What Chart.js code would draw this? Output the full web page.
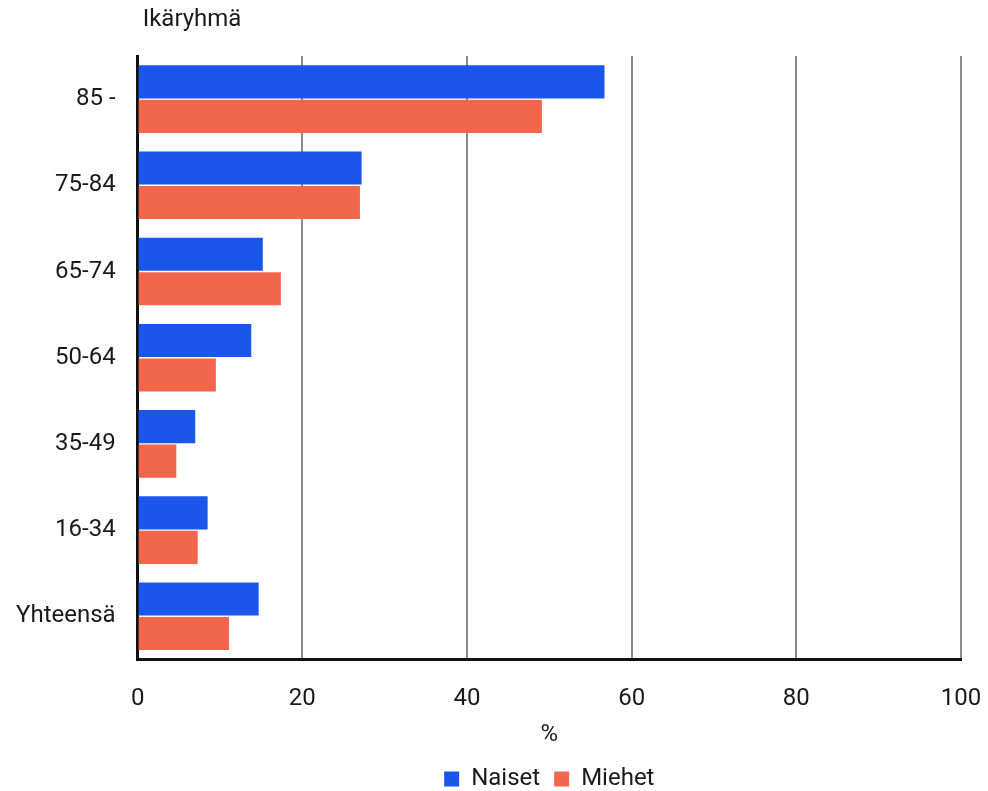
<!DOCTYPE html>
<html>
<head>
<meta charset="utf-8">
<script src="https://cdn.jsdelivr.net/npm/chart.js@4"></script>
<style>
  html, body { margin: 0; padding: 0; background: #fff; overflow: hidden; }
  #wrap { width: 988px; height: 791px; position: relative; }
  canvas { display: block; }
</style>
</head>
<body>
<div id="wrap"><canvas id="myChart"></canvas></div>
<script>
const labels = ['85 -', '75-84', '65-74', '50-64', '35-49', '16-34', 'Yhteensä'];
const naiset = [56.7, 27.2, 15.2, 13.8, 7.0, 8.5, 14.7];
const miehet = [49.1, 27.0, 17.4, 9.5, 4.7, 7.3, 11.1];
const xTicks = [0, 20, 40, 60, 80, 100];

const fontFamily = 'Roboto, "Noto Sans", sans-serif';
const fontSize = 24;

// draws the "Ikäryhmä" caption above the value axis
const yTitle = {
    id: 'yTitle',
    afterDraw(chart) {
        const ctx = chart.ctx;
        ctx.save();
        ctx.font = fontSize + 'px ' + fontFamily;
        ctx.fillStyle = '#1a1a1a';
        ctx.textBaseline = 'middle';
        ctx.fillText('Ikäryhmä', chart.chartArea.left + 5, 20);
        ctx.restore();
    }
};

const config = {
    type: 'bar',
    data: {
        labels: labels,
        datasets: [{
            label: 'Naiset',
            data: naiset,
            backgroundColor: '#1b56ea',
            categoryPercentage: 0.8,
            barPercentage: 0.96
        }, {
            label: 'Miehet',
            data: miehet,
            backgroundColor: '#f2664c',
            categoryPercentage: 0.8,
            barPercentage: 0.96
        }]
    },
    options: {
        indexAxis: 'y',
        responsive: true,
        maintainAspectRatio: false,
        animation: false,
        layout: {
            padding: { top: 56, right: 27, left: -6, bottom: -10 }
        },
        plugins: {
            legend: {
                position: 'bottom',
                fullSize: false,
                labels: {
                    font: { family: fontFamily, size: fontSize },
                    color: '#1a1a1a',
                    boxWidth: 15,
                    boxHeight: 15,
                    padding: 14
                }
            },
            tooltip: { enabled: false }
        },
        scales: {
            x: {
                min: 0,
                max: 100,
                afterBuildTicks: function (axis) {
                    axis.ticks = xTicks.map(v => ({ value: v }));
                },
                // tick padding is otherwise added to the right overhang of "100"
                afterFit: function (axis) {
                    axis.paddingRight = 22;
                },
                grid: {
                    color: function (c) { return c.tick.value === 0 ? 'rgba(0,0,0,0)' : '#8c8c8c'; },
                    lineWidth: 2,
                    drawTicks: false
                },
                border: { display: true, color: '#111', width: 3 },
                ticks: {
                    font: { family: fontFamily, size: fontSize },
                    color: '#1a1a1a',
                    padding: 25
                },
                title: {
                    display: true,
                    text: '%',
                    font: { family: fontFamily, size: fontSize },
                    color: '#1a1a1a',
                    padding: { top: -18, bottom: 4 }
                }
            },
            y: {
                grid: { display: false, drawTicks: false },
                border: { display: true, color: '#111', width: 3 },
                ticks: {
                    font: { family: fontFamily, size: fontSize },
                    color: '#1a1a1a',
                    padding: 22
                }
            }
        }
    },
    plugins: [yTitle]
};

let myChart = new Chart(document.getElementById('myChart'), config);
</script>
</body>
</html>
